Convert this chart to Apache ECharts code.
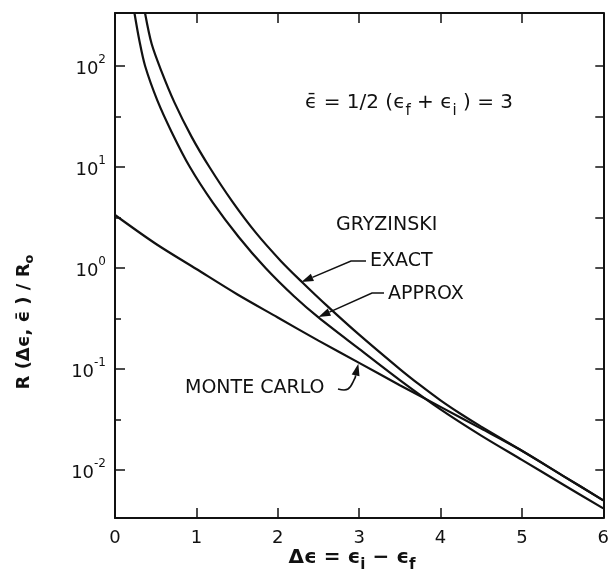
<!DOCTYPE html>
<html><head><meta charset="utf-8">
<script src="https://cdn.jsdelivr.net/npm/echarts@6/dist/echarts.min.js"></script>
<style>html,body{margin:0;padding:0;background:#fff}#c{width:612px;height:572px}</style>
</head><body><div id="c"></div>
<script>
// ---- data (Δε, R/R0) ----
const mcX = [0, 0.5, 1.0, 1.5, 2.0, 2.5, 3.0, 3.5, 4.0, 4.5, 5.0, 5.5, 6.0];
const mcY = [3.35, 1.74, 0.977, 0.550, 0.324, 0.191, 0.115, 0.0692, 0.0422, 0.0257, 0.0155, 0.00881, 0.00501];

const approxX = [0.24, 0.30, 0.37, 0.52, 0.70, 0.92, 1.20, 1.52, 1.85, 2.20, 2.50, 3.0, 3.5, 4.0, 4.5, 5.0, 5.5, 6.0];
const approxY = [331, 178, 100, 45.7, 21.9, 10, 4.47, 2.03, 1.0, 0.525, 0.324, 0.158, 0.0776, 0.0398, 0.0219, 0.0126, 0.00724, 0.00417];

const exactX = [0.37, 0.45, 0.57, 0.73, 0.94, 1.16, 1.44, 1.73, 2.04, 2.30, 2.60, 3.0, 3.5, 3.75, 4.0, 4.25, 4.5, 5.0, 5.5, 6.0];
const exactY = [331, 166, 89.1, 43.7, 20.0, 10, 4.57, 2.24, 1.17, 0.724, 0.427, 0.219, 0.100, 0.0692, 0.0490, 0.0359, 0.0269, 0.0155, 0.00881, 0.00501];

const xTickLabels = ['0', '1', '2', '3', '4', '5', '6'];
const yMajorExp = [-2, -1, 0, 1, 2];
const yMinorExp = [-1.5, -0.5, 0.5, 1.5];
const yMin = 0.00335, yMax = 335;

const FONT = 'DejaVu Sans';
const INK = '#111';
const pairs = (xs, ys) => xs.map((x, i) => [x, ys[i]]);
const majors = yMajorExp.map(e => Math.pow(10, e));
const minors = yMinorExp.map(e => Math.pow(10, e));

const chart = echarts.init(document.getElementById('c'), null, {renderer: 'canvas'});

const axLine = {show: true, lineStyle: {color: INK, width: 2}};
const yBase = (pos, tickVals, len, showLine) => ({
  type: 'log', logBase: 10, min: yMin, max: yMax, position: pos,
  axisLine: showLine ? axLine : {show: false},
  axisTick: {show: true, inside: true, length: len, customValues: tickVals, lineStyle: {color: INK, width: 1.5}},
  axisLabel: {show: false},
  splitLine: {show: false}, minorTick: {show: false}
});

const yMain = yBase('left', majors, 10, true);
yMain.axisLabel = {
  show: true, customValues: majors, margin: 9,
  formatter: v => '{b|10}{s|' + Math.round(Math.log10(v)) + '}',
  rich: {
    b: {fontFamily: FONT, fontSize: 18, color: INK, padding: [6, 0, 0, 0]},
    s: {fontFamily: FONT, fontSize: 12, color: INK, verticalAlign: 'top'}
  }
};

const series = [
  {name: 'MONTE CARLO', data: pairs(mcX, mcY)},
  {name: 'APPROX', data: pairs(approxX, approxY)},
  {name: 'EXACT', data: pairs(exactX, exactY)}
].map(s => Object.assign({
  type: 'line', xAxisIndex: 0, yAxisIndex: 0, showSymbol: false, symbol: 'none',
  smooth: 0.3, clip: true, silent: true,
  lineStyle: {color: INK, width: 2.2}
}, s));

chart.setOption({
  animation: false,
  backgroundColor: '#fff',
  grid: {left: 115, right: 5, top: 13, bottom: 54, containLabel: false},
  xAxis: [
    {type: 'value', min: 0, max: 6, interval: 1, position: 'bottom',
     axisLine: axLine,
     axisTick: {inside: true, length: 10, lineStyle: {color: INK, width: 1.5}},
     axisLabel: {fontFamily: FONT, fontSize: 18, color: INK, margin: 11, formatter: v => xTickLabels[Math.round(v)]},
     splitLine: {show: false}},
    {type: 'value', min: 0, max: 6, interval: 1, position: 'top',
     axisLine: axLine,
     axisTick: {inside: true, length: 10, lineStyle: {color: INK, width: 1.5}},
     axisLabel: {show: false}, splitLine: {show: false}}
  ],
  yAxis: [
    yMain,
    yBase('left', minors, 6, false),
    yBase('right', majors, 8, true),
    yBase('right', minors, 8, false)
  ],
  series: series
});

// ---- annotations ----
const P = (x, y) => chart.convertToPixel({xAxisIndex: 0, yAxisIndex: 0}, [x, y]);
function arrowHead(tip, from, len, hw) {
  const dx = tip[0] - from[0], dy = tip[1] - from[1];
  const n = Math.hypot(dx, dy), ux = dx / n, uy = dy / n;
  const b = [tip[0] - ux * len, tip[1] - uy * len];
  return {
    head: {type: 'polygon', z: 100, shape: {points: [tip, [b[0] - uy * hw, b[1] + ux * hw], [b[0] + uy * hw, b[1] - ux * hw]]}, style: {fill: INK}},
    base: b
  };
}
function leader(points, smooth) {
  const tip = points[points.length - 1];
  const ah = arrowHead(tip, points[points.length - 2], 12, 4);
  const pts = points.slice(0, -1).concat([ah.base]);
  return [
    {type: 'polyline', z: 100, shape: {points: pts, smooth: smooth || 0}, style: {stroke: INK, lineWidth: 1.6, fill: null}},
    ah.head
  ];
}
const txt = (x, y, text, opts) => ({
  type: 'text', x: x, y: y, z: 100,
  style: Object.assign({text: text, fontFamily: FONT, fontSize: 19, fill: INK, align: 'left', verticalAlign: 'middle'}, opts || {})
});

const tipExact = P(2.29, 0.726);
const tipApprox = P(2.50, 0.327);
const tipMC = P(2.99, 0.113);

const graphics = [
  txt(336, 225, 'GRYZINSKI'),
  txt(370, 261, 'EXACT'),
  txt(388, 294, 'APPROX'),
  txt(185, 388, 'MONTE CARLO'),
  ...leader([[366, 261], [351, 261], tipExact]),
  ...leader([[384, 293], [372, 293], tipApprox]),
  ...leader([[338, 389], [348, 389], [355, 378], tipMC], 0.4),
  {type: 'text', x: 305, y: 103, z: 100, style: {
    text: 'ϵ\u0304 = 1/2 (ϵ{s|f} + ϵ{s|i} ) = 3', fontFamily: FONT, fontSize: 20, fill: INK,
    align: 'left', verticalAlign: 'middle',
    rich: {s: {fontFamily: FONT, fontSize: 15, fill: INK, padding: [16, 0, 0, 0]}}
  }},
  {type: 'text', x: 352, y: 558, z: 100, style: {
    text: 'Δϵ = ϵ{s|i} − ϵ{s|f}', fontFamily: FONT, fontSize: 20, fontWeight: 'bold', fill: INK,
    align: 'center', verticalAlign: 'middle',
    rich: {s: {fontFamily: FONT, fontSize: 15, fontWeight: 'bold', fill: INK, padding: [14, 0, 0, 0]}}
  }},
  {type: 'text', x: 24, y: 322, rotation: Math.PI / 2, z: 100, style: {
    text: 'R (Δϵ, ϵ\u0304 ) / R{s|o}', fontFamily: FONT, fontSize: 18, fontWeight: 'bold', fill: INK,
    align: 'center', verticalAlign: 'middle',
    rich: {s: {fontFamily: FONT, fontSize: 13, fontWeight: 'bold', fill: INK, padding: [12, 0, 0, 0]}}
  }}
];
chart.setOption({graphic: graphics});
</script>
</body></html>
